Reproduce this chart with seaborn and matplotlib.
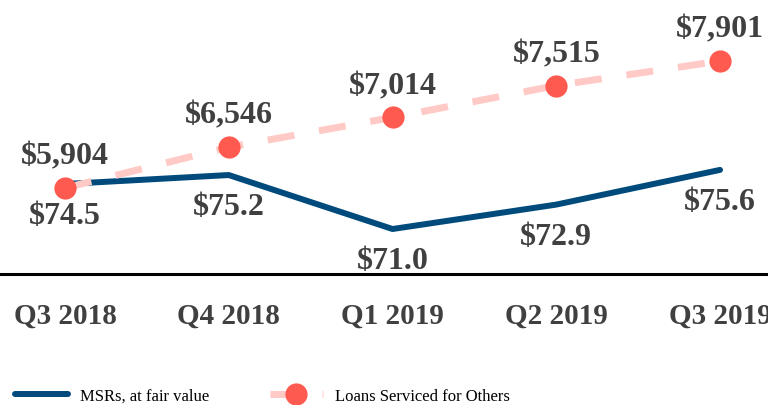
import pandas as pd
import matplotlib
matplotlib.use('Agg')
import matplotlib.pyplot as plt
import seaborn as sns

quarters = ['Q3 2018', 'Q4 2018', 'Q1 2019', 'Q2 2019', 'Q3 2019']
msr_values = [74.5, 75.2, 71.0, 72.9, 75.6]
loans_values = [5904, 6546, 7014, 7515, 7901]

MSR_COLOR = '#004A7C'
LOAN_LINE = '#FFC9C5'
LOAN_DOT = '#FF5A4F'
TEXT_COLOR = '#404040'

sns.set_theme(style='white')
plt.rcParams['font.family'] = ['Liberation Serif', 'DejaVu Serif']

df = pd.DataFrame({'Quarter': quarters, 'MSR': msr_values, 'Loans': loans_values})

fig = plt.figure(figsize=(7.68, 4.06), dpi=100)
ax = fig.add_axes([0, 0.3227, 1, 0.6773])
ax2 = ax.twinx()

sns.lineplot(data=df, x='Quarter', y='MSR', ax=ax, sort=False, color=MSR_COLOR,
             linewidth=4.3, label='MSRs, at fair value', legend=False)
sns.lineplot(data=df, x='Quarter', y='Loans', ax=ax2, sort=False, color=LOAN_LINE,
             linewidth=5, linestyle=(0, (3.9, 3.6)), marker='o', markersize=16,
             markerfacecolor=LOAN_DOT, markeredgecolor=LOAN_DOT, markeredgewidth=0,
             label='Loans Serviced for Others', legend=False)

ax.set_xlim(-0.397, 4.293)
ax.set_ylim(67.5, 88.9)
ax2.set_ylim(4552, 8876)

# value labels: MSRs below the line, loans above
for i, v in enumerate(msr_values):
    ax.annotate(f'${v:.1f}', (i, v), xytext=(0, -23), textcoords='offset points',
                ha='center', va='center', fontsize=23, fontweight='bold', color=TEXT_COLOR)
for i, v in enumerate(loans_values):
    ax2.annotate(f'${v:,}', (i, v), xytext=(0, 23), textcoords='offset points',
                 ha='center', va='center', fontsize=23, fontweight='bold', color=TEXT_COLOR)

for a in (ax, ax2):
    a.set_xlabel('')
    a.set_ylabel('')
    a.set_yticks([])
    for s in ['top', 'left', 'right', 'bottom']:
        a.spines[s].set_visible(False)
ax.spines['bottom'].set_visible(True)
ax.spines['bottom'].set_color('black')
ax.spines['bottom'].set_linewidth(2.2)
ax.tick_params(axis='x', length=0, pad=20, labelsize=21, labelcolor=TEXT_COLOR)
for t in ax.get_xticklabels():
    t.set_fontweight('bold')

handles = ax.get_lines()[:1] + ax2.get_lines()[:1]
fig.legend(handles, ['MSRs, at fair value', 'Loans Serviced for Others'],
           loc='center left', bbox_to_anchor=(15 / 768, 0.022), frameon=False,
           fontsize=12, handlelength=3.2, handletextpad=0.72, columnspacing=3.6,
           ncol=2, borderpad=0, borderaxespad=0, labelcolor='black')

fig.savefig('out.png', dpi=100)
